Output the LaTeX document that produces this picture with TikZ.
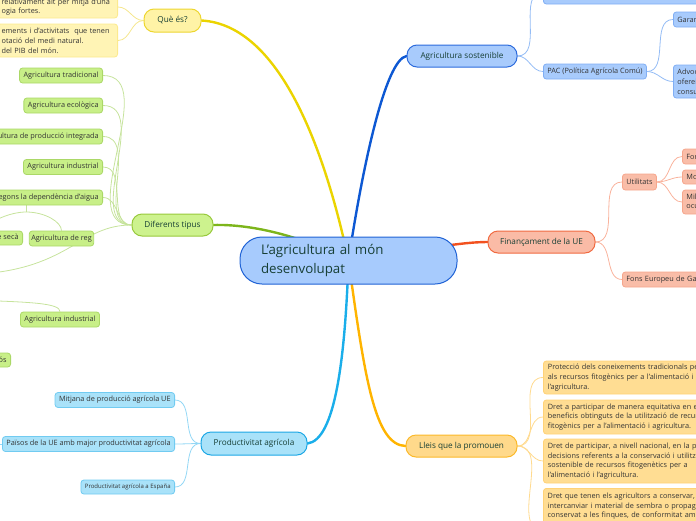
\documentclass[tikz,border=0pt]{standalone}
\usepackage{fontspec}
\setmainfont{Open Sans}
\usetikzlibrary{backgrounds}
\definecolor{ttext}{HTML}{173F35}
\definecolor{stext}{HTML}{333333}
\definecolor{cF}{HTML}{A7CBFD}
\definecolor{cB}{HTML}{1F62D5}
\definecolor{yF}{HTML}{FFF3A6}
\definecolor{yB}{HTML}{EDD630}
\definecolor{yL}{HTML}{EBD400}
\definecolor{ysF}{HTML}{FFF4B5}
\definecolor{ysB}{HTML}{FCEA8E}
\definecolor{ysL}{HTML}{F5E68C}
\definecolor{gF}{HTML}{CDF28E}
\definecolor{gB}{HTML}{98C93C}
\definecolor{gL}{HTML}{7DB51B}
\definecolor{gsF}{HTML}{C8EF88}
\definecolor{gsB}{HTML}{ABD867}
\definecolor{gsL}{HTML}{C6E39C}
\definecolor{bF}{HTML}{A8CBFC}
\definecolor{bB}{HTML}{2C6BDD}
\definecolor{bL}{HTML}{0D58D3}
\definecolor{bsB}{HTML}{80AEF4}
\definecolor{bsL}{HTML}{94BCF5}
\definecolor{rF}{HTML}{FABBA6}
\definecolor{rB}{HTML}{F06A41}
\definecolor{rL}{HTML}{F2511F}
\definecolor{rsF}{HTML}{F9BDA8}
\definecolor{rsB}{HTML}{F6A68C}
\definecolor{rsL}{HTML}{F9B39D}
\definecolor{oF}{HTML}{FFD98B}
\definecolor{oB}{HTML}{FBB92A}
\definecolor{oL}{HTML}{FFB400}
\definecolor{osF}{HTML}{FFDD93}
\definecolor{osB}{HTML}{FFD276}
\definecolor{osL}{HTML}{FFDA8E}
\definecolor{kF}{HTML}{A9E2F9}
\definecolor{kB}{HTML}{1CA7E5}
\definecolor{kL}{HTML}{1AAEEA}
\definecolor{ksB}{HTML}{71CBF1}
\definecolor{ksL}{HTML}{93D7F5}
\tikzset{
  topic/.style={draw, rounded corners=10pt, line width=1pt, minimum height=22pt,
    inner sep=0pt, font=\fontsize{8.2}{10}\selectfont, text=ttext},
  sub/.style={draw, rounded corners=3pt, line width=0.8pt, minimum height=15pt,
    inner xsep=4pt, inner ysep=0pt, font=\fontsize{7.3}{9.8}\selectfont, text=stext},
  ysub/.style={sub, fill=ysF, draw=ysB},
  gsub/.style={sub, fill=gsF, draw=gsB},
  bsub/.style={sub, fill=bF, draw=bsB},
  rsub/.style={sub, fill=rsF, draw=rsB},
  osub/.style={sub, fill=osF, draw=osB},
  ksub/.style={sub, fill=kF, draw=ksB},
  mainline/.style={line width=2.4pt, line cap=round},
  thin/.style={line width=0.8pt},
  rbox/.style={text width=260pt, align=left},
}
\begin{document}
\begin{tikzpicture}[x=1pt,y=-1pt]
\useasboundingbox (0,0) rectangle (696,520);
\clip (0,0) rectangle (696,520);

% ---------- central and main topics ----------
\node[draw=cB, fill=cF, line width=1pt, rounded corners=22pt, minimum width=217pt,
  minimum height=47pt, inner xsep=21pt, inner ysep=0pt, text width=175pt, align=left,
  font=\fontsize{13.3}{19}\selectfont, text=ttext] (C) at (348.5,260.5)
  {L’agricultura al món\\desenvolupat};
\node[topic, fill=yF, draw=yB, minimum width=57pt, minimum height=23pt] (Qe) at (172.5,20.5) {Què és?};
\node[topic, fill=gF, draw=gB, minimum width=81pt] (Dt) at (172.5,225) {Diferents tipus};
\node[topic, fill=kF, draw=kB, minimum width=106pt, minimum height=23pt] (Pa) at (254,443.5) {Productivitat agrícola};
\node[topic, fill=bF, draw=bB, minimum width=110pt] (As) at (462,56) {Agricultura sostenible};
\node[topic, fill=rF, draw=rB, minimum width=107pt] (Fi) at (541.5,242) {Finançament de la UE};
\node[topic, fill=oF, draw=oB, minimum width=111pt] (Ll) at (461.5,446) {Lleis que la promouen};

% ---------- Què és ----------
\node[ysub, anchor=east, text width=112pt, align=left, minimum height=22pt] (q1) at (118,7)
  {relativament alt per mitjà d’una\\ogia fortes.};
\node[ysub, anchor=east, text width=112pt, align=left, minimum height=33pt] (q2) at (118,40.5)
  {ements i d’activitats\ \ que tenen\\otació del medi natural.\\del PIB del món.};

% ---------- Diferents tipus ----------
\node[gsub, anchor=east] (n1) at (103,75.5) {Agricultura tradicional};
\node[gsub, anchor=east] (n2) at (103,105.5) {Agricultura ecològica};
\node[gsub, anchor=east] (n3) at (103,136.5) {Agricultura de producció integrada};
\node[gsub, anchor=east] (n4) at (103,167) {Agricultura industrial};
\node[gsub, anchor=east] (sg) at (103,197.5) {Segons la dependència d’aigua};
\node[gsub, anchor=east, minimum height=14pt] (sc) at (23,238) {Agricultura de secà};
\node[gsub, minimum width=63pt, inner xsep=2pt] (rg) at (61.5,238.5) {Agricultura de reg};
\node[gsub] (ai2) at (60,319.5) {Agricultura industrial};
\node[gsub, anchor=east, minimum height=14pt, text width=30pt, align=right] (os) at (11,360) {ós};
\coordinate (split) at (26,212);
\coordinate (off1) at (-20,274);
\coordinate (off2) at (-30,300);

% ---------- Productivitat ----------
\node[ksub, anchor=east] (mj) at (175,400) {Mitjana de producció agrícola UE};
\node[ksub, anchor=east] (pu) at (175,444) {Països de la UE amb major productivitat agrícola};
\node[ksub, anchor=east, minimum height=14pt, font=\fontsize{6}{8}\selectfont] (es) at (175,487) {Productivitat agrícola a España};
\coordinate (off3) at (-10,444);

% ---------- Sostenible ----------
\node[bsub, anchor=west, minimum width=200pt, minimum height=24pt] (top) at (543,-8) {};
\node[bsub, anchor=west] (pac) at (543,71.5) {PAC (Política Agrícola Comú)};
\node[bsub, anchor=west, rbox] (gar) at (673,19.5) {Garantir};
\node[bsub, anchor=west, rbox, minimum height=33pt] (adv) at (673,81.5) {Advocar per\\ofereixi\\consumidors};

% ---------- Finançament ----------
\node[rsub, anchor=west, minimum height=16pt] (ut) at (622,182) {Utilitats};
\node[rsub, anchor=west, rbox] (fon) at (622,279.5) {Fons Europeu de Garantia Agrària};
\node[rsub, anchor=west, rbox] (fo) at (682,156.5) {Foment};
\node[rsub, anchor=west, rbox, minimum height=14pt] (mo) at (682,177) {Modernització};
\node[rsub, anchor=west, rbox, minimum height=24pt] (mil) at (682,202) {Millora\\ocupació};

% ---------- Lleis ----------
\node[osub, anchor=west, rbox, minimum height=33pt, inner xsep=4.5pt] (b1) at (543,377.5)
  {Protecció dels coneixements tradicionals pertinents\\als recursos fitogènics per a l’alimentació i\\l’agricultura.};
\node[osub, anchor=west, rbox, minimum height=34pt, inner xsep=4.5pt] (b2) at (543,417)
  {Dret a participar de manera equitativa en els\\beneficis obtinguts de la utilització de recursos\\fitogènics per a l’alimentació i agricultura.};
\node[osub, anchor=west, rbox, minimum height=44pt, inner xsep=4.5pt] (b3) at (543,461)
  {Dret de participar, a nivell nacional, en la presa de\\decisions referents a la conservació i utilització\\sostenible de recursos fitogenètics per a\\l’alimentació i l’agricultura.};
\node[osub, anchor=north west, minimum width=270pt, minimum height=84pt] (b4) at (543,488) {};
\node[anchor=north west, inner sep=0pt, text width=260pt, align=left, font=\fontsize{7.3}{9.8}\selectfont, text=stext] (b4t) at (547.5,492.5)
  {Dret que tenen els agricultors a conservar, utilitzar,\\intercanviar i material de sembra o propagació\\conservat a les finques, de conformitat amb};

% ---------- connectors ----------
\begin{scope}[on background layer]
\draw[mainline, yL] (C.center) .. controls (325,150) and (280,25) .. (Qe.east);
\draw[mainline, bL] (C.center) .. controls (362,170) and (385,60) .. (As.west);
\draw[mainline, gL] (C.center) .. controls (300,235) and (250,224) .. (Dt.east);
\draw[mainline, rL] (C.center) .. controls (420,250) and (460,242) .. (Fi.west);
\draw[mainline, kL] (C.center) .. controls (345,360) and (335,440) .. (Pa.east);
\draw[mainline, oL] (C.center) .. controls (365,380) and (375,445) .. (Ll.west);

\draw[thin, ysL] (Qe.west) to[out=180,in=0] (q1.east);
\draw[thin, ysL] (Qe.west) to[out=180,in=0] (q2.east);

\foreach \t in {n1,n2,n3,n4,sg}{\draw[thin, gsL] (Dt.west) to[out=180,in=0] (\t.east);}
\draw[thin, gsL] (Dt.west) .. controls (80,225) and (70,268) .. (off1);
\draw[thin, gsL] (sg.south -| split) -- (split);
\draw[thin, gsL] (split) .. controls (10,212) and (sc.north |- 0,222) .. (sc.north);
\draw[thin, gsL] (split) .. controls (45,212) and (61.5,222) .. (rg.north);
\draw[thin, gsL] (off2) .. controls (30,302) and (60,303) .. (ai2.north);

\foreach \t in {mj,pu,es}{\draw[thin, ksL] (Pa.west) to[out=180,in=0] (\t.east);}
\draw[thin, ksL] (pu.west) -- (off3);

\draw[thin, bsL] (As.east) to[out=0,in=180] (top.west);
\draw[thin, bsL] (As.east) to[out=0,in=180] (pac.west);
\draw[thin, bsL] (pac.east) to[out=0,in=180] (gar.west);
\draw[thin, bsL] (pac.east) to[out=0,in=180] (adv.west);

\draw[thin, rsL] (Fi.east) to[out=0,in=180] (ut.west);
\draw[thin, rsL] (Fi.east) to[out=0,in=180] (fon.west);
\foreach \t in {fo,mo,mil}{\draw[thin, rsL] (ut.east) to[out=0,in=180] (\t.west);}

\foreach \t in {b1,b2,b3,b4}{\draw[thin, osL] (Ll.east) to[out=0,in=180] (\t.west);}
\end{scope}
\end{tikzpicture}
\end{document}
